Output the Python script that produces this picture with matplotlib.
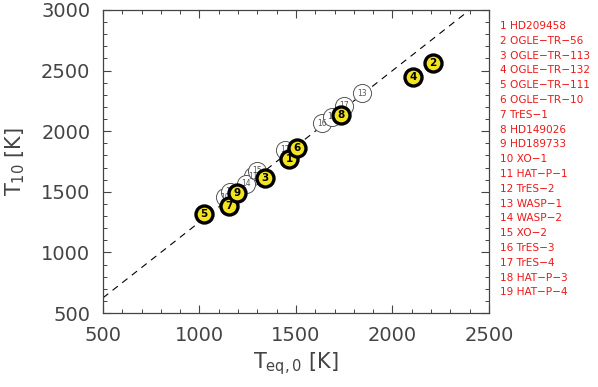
import matplotlib
matplotlib.use("Agg")
import matplotlib.pyplot as plt
import numpy as np

plt.rcParams['mathtext.default'] = 'regular'

# planets with filled (yellow) markers
fill_ids = [1, 2, 3, 4, 5, 6, 7, 8, 9]
fill_teq = [1464, 2211, 1339, 2105, 1023, 1503, 1153, 1735, 1193]
fill_t10 = [1771, 2565, 1616, 2450, 1317, 1864, 1383, 2134, 1488]

# planets with open markers
open_ids = [10, 11, 12, 13, 14, 15, 16, 17, 18, 19]
open_teq = [1132, 1275, 1443, 1842, 1240, 1300, 1636, 1750, 1160, 1685]
open_t10 = [1457, 1630, 1845, 2315, 1568, 1672, 2065, 2210, 1500, 2120]

names = ['HD209458', 'OGLE−TR−56', 'OGLE−TR−113', 'OGLE−TR−132', 'OGLE−TR−111',
         'OGLE−TR−10', 'TrES−1', 'HD149026', 'HD189733', 'XO−1', 'HAT−P−1',
         'TrES−2', 'WASP−1', 'WASP−2', 'XO−2', 'TrES−3', 'TrES−4', 'HAT−P−3',
         'HAT−P−4']

slope = 1.25
gray = '#444444'

fig = plt.figure(figsize=(5.98, 3.87), dpi=100)
ax = fig.add_axes([0.1722, 0.1912, 0.6455, 0.7830])

xl = np.array([500, 2500])
ax.plot(xl, slope * xl, color='black', lw=0.8, dashes=(6, 5), zorder=1)

for i, x, y in zip(open_ids, open_teq, open_t10):
    ax.scatter(x, y, s=170, facecolor='white', edgecolor='#555555', lw=0.7, zorder=2)
    ax.text(x, y, str(i), ha='center', va='center', fontsize=5.5, color='#555555', zorder=3)

for i, x, y in zip(fill_ids, fill_teq, fill_t10):
    ax.scatter(x, y, s=150, facecolor='#f2e41e', edgecolor='black', lw=2.4, zorder=4)
    ax.text(x, y, str(i), ha='center', va='center', fontsize=7.5, fontweight='bold',
            color='black', zorder=5)

ax.set_xlim(500, 2500)
ax.set_ylim(500, 3000)
ax.set_xticks(np.arange(500, 2501, 500))
ax.set_yticks(np.arange(500, 3001, 500))
ax.set_xticks(np.arange(500, 2501, 100), minor=True)
ax.set_yticks(np.arange(500, 3001, 100), minor=True)
ax.tick_params(which='both', direction='in', top=True, right=True, color=gray)
ax.tick_params(which='major', length=6, width=0.8, labelsize=14, labelcolor=gray, pad=9)
ax.tick_params(which='minor', length=3, width=0.7)
for sp in ax.spines.values():
    sp.set_color(gray)
    sp.set_linewidth(0.9)

ax.set_xlabel('T$_{eq,0}$ [K]', fontsize=15, color=gray, labelpad=4)
ax.set_ylabel('T$_{10}$ [K]', fontsize=15, color=gray, labelpad=10)

for k, name in enumerate(names):
    fig.text(500 / 598, 1 - (26 + k * 14.8) / 387, '%d %s' % (k + 1, name),
             fontsize=7.6, color='#f01818', ha='left', va='center')

fig.savefig('out.png', dpi=100)
